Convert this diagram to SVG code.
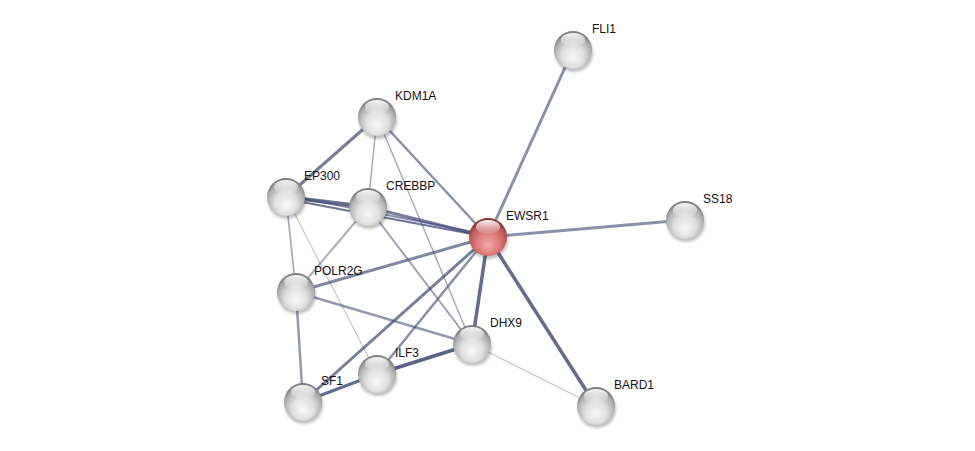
<svg xmlns="http://www.w3.org/2000/svg" width="975" height="451" viewBox="0 0 975 451">
<defs>
<radialGradient id="gBody" cx="50%" cy="62%" r="58%" fx="50%" fy="72%">
<stop offset="0" stop-color="#f8f8f8"/>
<stop offset="0.5" stop-color="#e0e0e0"/>
<stop offset="0.82" stop-color="#b0b0b0"/>
<stop offset="1" stop-color="#808080"/>
</radialGradient>
<radialGradient id="rBody" cx="50%" cy="62%" r="58%" fx="50%" fy="72%">
<stop offset="0" stop-color="#f4aaaa"/>
<stop offset="0.5" stop-color="#de7c7c"/>
<stop offset="0.82" stop-color="#c05858"/>
<stop offset="1" stop-color="#883535"/>
</radialGradient>
<linearGradient id="hl" x1="0" y1="0" x2="0" y2="1">
<stop offset="0" stop-color="#ffffff" stop-opacity="0.95"/>
<stop offset="1" stop-color="#ffffff" stop-opacity="0.05"/>
</linearGradient>
<filter id="sh" x="-50%" y="-50%" width="200%" height="200%">
<feGaussianBlur stdDeviation="1.5"/>
</filter>
<g id="ball">
<ellipse cx="1" cy="3" rx="19" ry="19" fill="#000" opacity="0.25" filter="url(#sh)"/>
<circle r="19" fill="url(#gBody)"/>
<ellipse cx="0" cy="-10" rx="12" ry="7" fill="url(#hl)"/>
</g>
<g id="rball">
<ellipse cx="1" cy="3" rx="19" ry="19" fill="#000" opacity="0.25" filter="url(#sh)"/>
<circle r="19" fill="url(#rBody)"/>
<ellipse cx="0" cy="-10" rx="12" ry="7" fill="url(#hl)"/>
</g>
</defs>
<style>
.e{stroke:#3d4670;fill:none;stroke-linecap:round}
.t{font-family:"Liberation Sans",Arial,sans-serif;font-size:12px;fill:#111}
</style>
<rect width="975" height="451" fill="#fff"/>
<g id="edges">
<line class="e" x1="377" y1="117" x2="286" y2="197" stroke-width="3" opacity="0.7"/>
<line class="e" x1="377" y1="117" x2="368" y2="207" stroke-width="1.5" opacity="0.45"/>
<line class="e" x1="377" y1="117" x2="488" y2="237" stroke-width="2.5" opacity="0.6"/>
<line class="e" x1="377" y1="117" x2="472" y2="344" stroke-width="1.5" opacity="0.45"/>
<line class="e" x1="286" y1="197" x2="368" y2="207" stroke-width="4" opacity="0.8"/>
<line class="e" x1="286" y1="199" x2="488" y2="237" stroke-width="2" opacity="0.75"/>
<line class="e" x1="286" y1="195" x2="488" y2="235" stroke-width="2" opacity="0.6"/>
<line class="e" x1="368" y1="207" x2="488" y2="237" stroke-width="3" opacity="0.7"/>
<line class="e" x1="286" y1="197" x2="296" y2="292" stroke-width="1.8" opacity="0.45"/>
<line class="e" x1="286" y1="197" x2="377" y2="374" stroke-width="1.2" opacity="0.3"/>
<line class="e" x1="368" y1="207" x2="296" y2="292" stroke-width="2" opacity="0.45"/>
<line class="e" x1="368" y1="207" x2="472" y2="344" stroke-width="2" opacity="0.5"/>
<line class="e" x1="296" y1="292" x2="488" y2="237" stroke-width="3" opacity="0.65"/>
<line class="e" x1="296" y1="292" x2="472" y2="344" stroke-width="2.5" opacity="0.55"/>
<line class="e" x1="296" y1="292" x2="303" y2="402" stroke-width="2.5" opacity="0.55"/>
<line class="e" x1="303" y1="402" x2="488" y2="237" stroke-width="3" opacity="0.7"/>
<line class="e" x1="303" y1="402" x2="377" y2="374" stroke-width="3" opacity="0.8"/>
<line class="e" x1="377" y1="374" x2="472" y2="344" stroke-width="3.5" opacity="0.85"/>
<line class="e" x1="377" y1="374" x2="488" y2="237" stroke-width="2.5" opacity="0.6"/>
<line class="e" x1="472" y1="344" x2="488" y2="237" stroke-width="3.5" opacity="0.8"/>
<line class="e" x1="472" y1="344" x2="596" y2="406" stroke-width="1.2" opacity="0.3"/>
<line class="e" x1="488" y1="237" x2="596" y2="406" stroke-width="3.5" opacity="0.8"/>
<line class="e" x1="488" y1="237" x2="573" y2="50" stroke-width="3" opacity="0.6"/>
<line class="e" x1="488" y1="237" x2="685" y2="220" stroke-width="3" opacity="0.6"/>
</g>
<g id="KDM1A"><use href="#ball" x="377" y="117"/><text class="t" x="395" y="100">KDM1A</text></g>
<g id="EP300"><use href="#ball" x="286" y="197"/><text class="t" x="304" y="180">EP300</text></g>
<g id="CREBBP"><use href="#ball" x="368" y="207"/><text class="t" x="386" y="190">CREBBP</text></g>
<g id="EWSR1"><use href="#rball" x="488" y="237"/><text class="t" x="506" y="220">EWSR1</text></g>
<g id="FLI1"><use href="#ball" x="573" y="50"/><text class="t" x="592" y="33">FLI1</text></g>
<g id="SS18"><use href="#ball" x="685" y="220"/><text class="t" x="703" y="203">SS18</text></g>
<g id="POLR2G"><use href="#ball" x="296" y="292"/><text class="t" x="314" y="275">POLR2G</text></g>
<g id="DHX9"><use href="#ball" x="472" y="344"/><text class="t" x="490" y="327">DHX9</text></g>
<g id="ILF3"><use href="#ball" x="377" y="374"/><text class="t" x="395" y="357">ILF3</text></g>
<g id="SF1"><use href="#ball" x="303" y="402"/><text class="t" x="321" y="385">SF1</text></g>
<g id="BARD1"><use href="#ball" x="596" y="406"/><text class="t" x="614" y="389">BARD1</text></g>
</svg>
